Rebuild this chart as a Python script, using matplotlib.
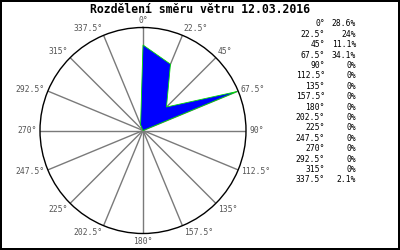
import numpy as np
import matplotlib.pyplot as plt

# wind direction distribution (percent per direction)
directions = [0, 22.5, 45, 67.5, 90, 112.5, 135, 157.5, 180,
              202.5, 225, 247.5, 270, 292.5, 315, 337.5]
percent = [28.6, 24, 11.1, 34.1, 0, 0, 0, 0, 0, 0, 0, 0, 0, 0, 0, 2.1]
percent_labels = ['28.6%', '24%', '11.1%', '34.1%', '0%', '0%', '0%', '0%',
                  '0%', '0%', '0%', '0%', '0%', '0%', '0%', '2.1%']
title = 'Rozdělení směru větru 12.03.2016'


def fmt_dir(d):
    return ('%g' % d) + '°'


fig = plt.figure(figsize=(4, 2.5), dpi=100, linewidth=1.5, edgecolor='black')
fig.text(0.5, 0.963, title, ha='center', va='center', fontsize=8.3,
         fontweight='bold', family='DejaVu Sans Mono')

ax = fig.add_axes([0.1, 0.066, 0.515, 0.824], projection='polar')
ax.set_theta_zero_location('N')
ax.set_theta_direction(-1)
rmax = max(percent) * 1.01
ax.set_ylim(0, rmax)
ax.set_yticks([])
ax.set_thetagrids(directions, labels=[])
ax.grid(True, color='#7a7a7a', linewidth=1)
ax.set_axisbelow(True)
ax.spines['polar'].set_color('black')
ax.spines['polar'].set_linewidth(1)

theta = np.deg2rad(directions + [directions[0]])
vals = percent + [percent[0]]
ax.fill(theta, vals, facecolor='#0000ff', edgecolor='#00dd00', linewidth=0.6, zorder=3)

# direction labels around the circle
for d in directions:
    th = np.deg2rad(d)
    s, c = np.sin(th), np.cos(th)
    ha = 'center' if abs(s) < 0.1 else ('left' if s > 0 else 'right')
    va = 'bottom' if c > 0.5 else ('top' if c < -0.5 else 'center')
    ax.annotate(fmt_dir(d), xy=(th, rmax), xytext=(3 * s, 3 * c),
                textcoords='offset pixels', ha=ha, va=va, fontsize=5.8,
                family='DejaVu Sans Mono', color='#555555', annotation_clip=False)

# table of values on the right
for i, (d, p) in enumerate(zip(directions, percent_labels)):
    y = 1 - (24 + i * 10.4) / 250
    fig.text(325 / 400, y, fmt_dir(d), ha='right', va='center', fontsize=5.8,
             family='DejaVu Sans Mono')
    fig.text(356 / 400, y, p, ha='right', va='center', fontsize=5.8,
             family='DejaVu Sans Mono')

fig.savefig('out.png', dpi=100)
